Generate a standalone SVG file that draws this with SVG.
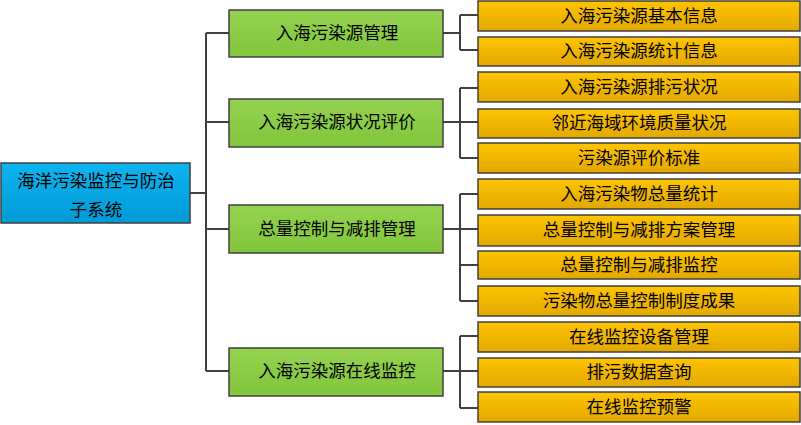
<svg xmlns="http://www.w3.org/2000/svg" width="801" height="425" viewBox="0 0 801 425">
<defs>
<linearGradient id="gBlue" x1="0" y1="0" x2="0" y2="1"><stop offset="0" stop-color="#0DB4F0"/><stop offset="1" stop-color="#009AD6"/></linearGradient>
<linearGradient id="gGreen" x1="0" y1="0" x2="0" y2="1"><stop offset="0" stop-color="#94D250"/><stop offset="1" stop-color="#82C63C"/></linearGradient>
<linearGradient id="gOrange" x1="0" y1="0" x2="0" y2="1"><stop offset="0" stop-color="#FFC400"/><stop offset="1" stop-color="#E2A800"/></linearGradient>
<style>
.box{stroke:#404040;stroke-width:1.5}
.root{fill:url(#gBlue)}
.mid{fill:url(#gGreen)}
.leaf{fill:url(#gOrange)}
text{font-family:"Noto Sans CJK SC","Noto Sans",sans-serif;font-size:17.5px;fill:#000;text-anchor:middle}
.conn{stroke:#404040;stroke-width:2;fill:none}
</style>
</defs>
<g id="connectors">
<path class="conn" d="M190,193 H206 M206,33 V371 M206,33 H229 M206,122 H229 M206,229 H229 M206,371 H229"/>
<path class="conn" d="M443,33 H460 M460,15 V50 M460,15 H478 M460,50 H478"/>
<path class="conn" d="M443,122 H460 M460,88 V158 M460,88 H478 M460,122 H478 M460,158 H478"/>
<path class="conn" d="M443,229 H460 M460,194 V301 M460,194 H478 M460,229 H478 M460,265 H478 M460,301 H478"/>
<path class="conn" d="M443,371 H460 M460,336 V408 M460,336 H478 M460,371 H478 M460,408 H478"/>
</g>
<g id="root"><rect class="box root" x="1" y="163" width="189" height="60"/><text x="96" y="187">海洋污染监控与防治</text><text x="96" y="216">子系统</text></g>
<g id="m1"><rect class="box mid" x="229" y="10" width="214" height="47"/><text x="337" y="39">入海污染源管理</text></g>
<g id="m2"><rect class="box mid" x="229" y="99" width="214" height="48"/><text x="337" y="128">入海污染源状况评价</text></g>
<g id="m3"><rect class="box mid" x="229" y="205" width="214" height="48"/><text x="337" y="235">总量控制与减排管理</text></g>
<g id="m4"><rect class="box mid" x="229" y="348" width="214" height="48"/><text x="337" y="377">入海污染源在线监控</text></g>
<g id="l1"><rect class="box leaf" x="478" y="1" width="322" height="30"/><text x="639" y="22">入海污染源基本信息</text></g>
<g id="l2"><rect class="box leaf" x="478" y="37" width="322" height="29"/><text x="639" y="57">入海污染源统计信息</text></g>
<g id="l3"><rect class="box leaf" x="478" y="72" width="322" height="30"/><text x="639" y="93">入海污染源排污状况</text></g>
<g id="l4"><rect class="box leaf" x="478" y="109" width="322" height="29"/><text x="639" y="129">邻近海域环境质量状况</text></g>
<g id="l5"><rect class="box leaf" x="478" y="143" width="322" height="30"/><text x="639" y="164">污染源评价标准</text></g>
<g id="l6"><rect class="box leaf" x="478" y="179" width="322" height="30"/><text x="639" y="200">入海污染物总量统计</text></g>
<g id="l7"><rect class="box leaf" x="478" y="215" width="322" height="31"/><text x="639" y="236">总量控制与减排方案管理</text></g>
<g id="l8"><rect class="box leaf" x="478" y="251" width="322" height="28"/><text x="639" y="271">总量控制与减排监控</text></g>
<g id="l9"><rect class="box leaf" x="478" y="286" width="322" height="30"/><text x="639" y="307">污染物总量控制制度成果</text></g>
<g id="l10"><rect class="box leaf" x="478" y="322" width="322" height="30"/><text x="639" y="343">在线监控设备管理</text></g>
<g id="l11"><rect class="box leaf" x="478" y="358" width="322" height="29"/><text x="639" y="378">排污数据查询</text></g>
<g id="l12"><rect class="box leaf" x="478" y="392" width="322" height="30"/><text x="639" y="413">在线监控预警</text></g>
</svg>
